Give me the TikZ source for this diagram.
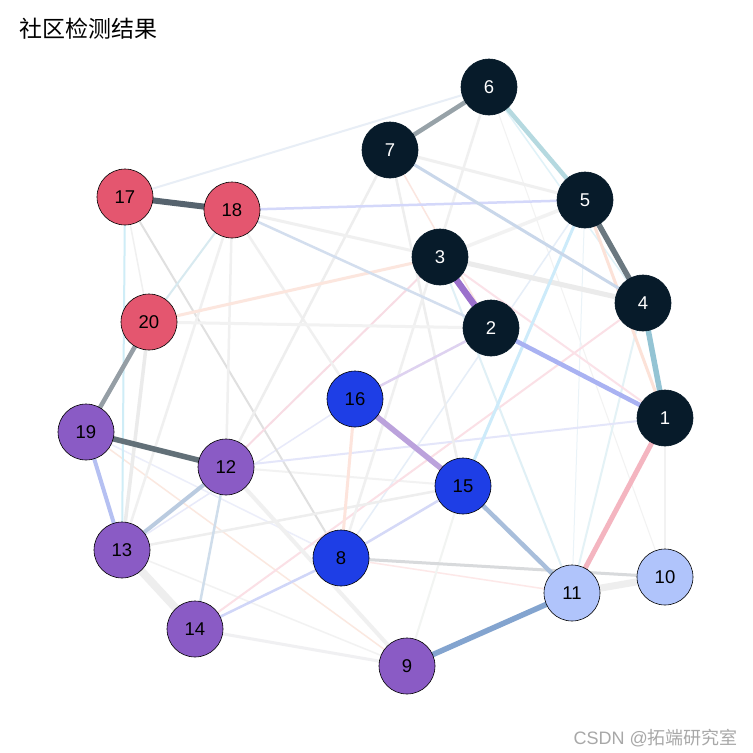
\documentclass[tikz,border=0pt]{standalone}
\usepackage{fontspec}
\setmainfont{Liberation Sans}
\newfontfamily\cjk{Noto Sans CJK SC}
\usetikzlibrary{backgrounds}
\definecolor{cDark}{HTML}{071B2A}
\definecolor{cRed}{HTML}{E4566F}
\definecolor{cPurple}{HTML}{8A5BC5}
\definecolor{cBlue}{HTML}{1E3EE6}
\definecolor{cLight}{HTML}{B0C4FB}
\definecolor{cMark}{HTML}{A8A8A8}
\newcommand\ed[4]{\definecolor{ec}{HTML}{#3}\draw[ec,line width=#4pt] (n#1.center) -- (n#2.center);}
\begin{document}
\begin{tikzpicture}[x=1pt,y=-1pt,
  nd/.style={circle,draw=black,line width=0.6pt,minimum size=56pt,inner sep=0pt,font=\fontsize{18.5}{18.5}\selectfont},
  dk/.style={nd,fill=cDark,draw=cDark,text=white},
  rd/.style={nd,fill=cRed},
  pu/.style={nd,fill=cPurple},
  bl/.style={nd,fill=cBlue},
  lb/.style={nd,fill=cLight}]
\useasboundingbox (0,0) rectangle (753,753);
% nodes
\node[dk] (n1) at (665,418) {1};
\node[dk] (n2) at (491,328) {2};
\node[dk] (n3) at (440,257) {3};
\node[dk] (n4) at (643,303) {4};
\node[dk] (n5) at (585,200) {5};
\node[dk] (n6) at (489,87) {6};
\node[dk] (n7) at (390,150) {7};
\node[bl] (n8) at (341,558) {8};
\node[pu] (n9) at (407,666) {9};
\node[lb] (n10) at (665,577) {10};
\node[lb] (n11) at (572,593) {11};
\node[pu] (n12) at (226,467) {12};
\node[pu] (n13) at (122,550) {13};
\node[pu] (n14) at (195,629) {14};
\node[bl] (n15) at (463,486) {15};
\node[bl] (n16) at (355,399) {16};
\node[rd] (n17) at (125,197) {17};
\node[rd] (n18) at (232,210) {18};
\node[pu] (n19) at (86,432) {19};
\node[rd] (n20) at (149,322) {20};
% texts
\node[anchor=west,font=\cjk\fontsize{23}{23}\selectfont,inner sep=0pt] (title) at (19,29) {社区检测结果};
\node[anchor=base east,text=cMark,font=\fontsize{18}{18}\selectfont,inner sep=0pt] (mark) at (738,744) {CSDN @{\cjk 拓端研究室}};
\begin{scope}[on background layer]
\fill[white] (0,0) rectangle (753,753);
% faint edges
\ed{17}{20}{F0F0F0}{1.5}
\ed{6}{10}{F2F2F2}{1}
\ed{5}{11}{EAF3F8}{1}
\ed{5}{8}{E6EEF8}{1.5}
\ed{6}{4}{E0F2F8}{1.5}
\ed{7}{2}{FBE6E0}{1.5}
\ed{16}{13}{E8EAFA}{1.5}
\ed{19}{9}{FBE8E0}{1.5}
\ed{19}{8}{ECEEFA}{1.5}
\ed{13}{9}{F2F2F2}{1.5}
\ed{8}{11}{FDE8E8}{1.5}
\ed{15}{9}{F2F4F2}{2}
\ed{12}{15}{F2F2F2}{2}
\ed{17}{6}{E8EEF6}{2}
\ed{17}{8}{E0E0E0}{2}
\ed{18}{20}{D8EAF0}{2}
\ed{4}{14}{FBE0E6}{2}
\ed{4}{11}{E4F2F6}{2}
\ed{1}{12}{E4E6FA}{2}
\ed{3}{1}{FBE2E8}{2}
\ed{3}{11}{E0F0F6}{2}
\ed{3}{12}{F8DCE4}{2}
\ed{17}{13}{CFEDF7}{2}
\ed{18}{13}{F0F0F0}{2.5}
\ed{18}{12}{F0F0F0}{2.5}
\ed{18}{16}{F0F0F0}{2.5}
\ed{7}{12}{EEEEEE}{2.5}
\ed{7}{15}{EEEEEE}{2.5}
\ed{6}{8}{F0F0F0}{2.5}
\ed{1}{10}{F2F2F2}{2.5}
\ed{15}{13}{EEEEEE}{2.5}
\ed{18}{3}{F0F0F0}{3}
\ed{20}{3}{FCE6DE}{3}
\ed{20}{2}{F2F2F2}{3}
\ed{7}{5}{F0F0F0}{3}
\ed{5}{1}{FCE2D8}{3}
\ed{14}{9}{F0F0F2}{3}
\ed{8}{16}{FDE4DC}{3}
\ed{20}{13}{EBEBEB}{3.5}
\ed{5}{3}{F2F2F2}{3.5}
\ed{12}{9}{F0F0F0}{4}
\ed{4}{3}{EBEBEB}{5}
% medium edges
\ed{12}{14}{CFDDEB}{2.5}
\ed{14}{8}{D0D6F8}{2.5}
\ed{8}{15}{D5D9F7}{2.5}
\ed{8}{10}{D8DADC}{3}
\ed{16}{2}{DED2F0}{2.5}
\ed{5}{15}{CDEBFA}{3}
\ed{18}{5}{D4D8FA}{2.5}
\ed{18}{2}{D3DEEE}{2.5}
\ed{7}{4}{C9D7EA}{3}
% strong edges
\ed{13}{14}{EEEEEE}{8}
\ed{11}{10}{EEEEEE}{7}
\ed{19}{13}{B5C0F2}{4}
\ed{12}{13}{BACBE0}{4}
\ed{15}{11}{A8BEDB}{4.5}
\ed{6}{5}{B5D9E0}{4.5}
\ed{2}{1}{A9B2F2}{4.5}
\ed{16}{15}{BBA2DC}{5.5}
\ed{11}{1}{F4B5C0}{5}
\ed{11}{9}{83A4CF}{5.5}
\ed{4}{1}{94C4D4}{5.5}
\ed{3}{2}{9B70CC}{6.5}
\ed{19}{20}{959EA5}{4.5}
\ed{6}{7}{97A2A8}{4.5}
\ed{5}{4}{6B7880}{5.5}
\ed{19}{12}{627078}{5.5}
\ed{17}{18}{56636E}{6}
\end{scope}
\end{tikzpicture}
\end{document}
